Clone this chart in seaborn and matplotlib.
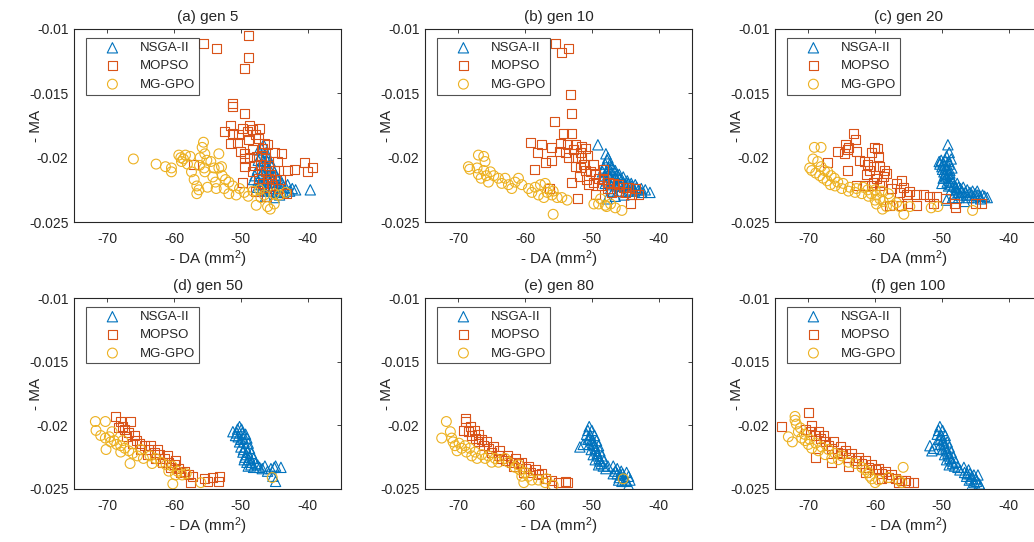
import numpy as np
import matplotlib
matplotlib.use("Agg")
import matplotlib.pyplot as plt
import seaborn as sns


# ---- data (x = - DA in mm^2, y = - MA) ----
titles = ["(a) gen 5", "(b) gen 10", "(c) gen 20", "(d) gen 50", "(e) gen 80", "(f) gen 100"]
algorithms = ["NSGA-II", "MOPSO", "MG-GPO"]
x_ticks = [-70, -60, -50, -40]
y_ticks = [-0.025, -0.02, -0.015, -0.01]
y_tick_labels = ["-0.025", "-0.02", "-0.015", "-0.01"]

gen5_nsga = [
    (-46.6, -0.0190), (-47.3, -0.0194), (-46.2, -0.0196), (-47.0, -0.0199), (-46.0, -0.0200),
    (-47.4, -0.0202), (-46.5, -0.0203), (-45.6, -0.0203), (-47.1, -0.0206), (-46.2, -0.0207),
    (-45.4, -0.0207), (-47.5, -0.0209), (-46.7, -0.0210), (-45.8, -0.0211), (-45.0, -0.0211),
    (-47.9, -0.0214), (-47.0, -0.0214), (-46.1, -0.0215), (-45.3, -0.0215), (-44.5, -0.0216),
    (-48.1, -0.0217), (-47.4, -0.0218), (-46.5, -0.0218), (-45.6, -0.0219), (-44.8, -0.0219),
    (-43.9, -0.0220), (-47.0, -0.0221), (-46.0, -0.0222), (-45.1, -0.0222), (-44.2, -0.0223),
    (-43.3, -0.0223), (-42.3, -0.0224), (-41.8, -0.0225), (-39.6, -0.0225), (-46.4, -0.0226),
    (-45.5, -0.0226), (-44.6, -0.0227), (-43.6, -0.0227), (-46.3, -0.0230), (-45.0, -0.0231),
    (-44.2, -0.0229), (-46.8, -0.0212), (-45.9, -0.0217), (-44.9, -0.0224), (-46.9, -0.0225),
    (-46.9, -0.0193), (-46.4, -0.0199), (-45.8, -0.0208), (-44.8, -0.0214), (-44.0, -0.0218),
    (-43.0, -0.0221), (-42.7, -0.0226), (-47.5, -0.0223), (-45.8, -0.0224), (-44.1, -0.0226),
]
gen5_mopso = [
    (-55.6, -0.0111), (-53.7, -0.0115), (-48.8, -0.0105), (-48.9, -0.0122), (-49.4, -0.0131),
    (-51.3, -0.0158), (-51.3, -0.0160), (-49.4, -0.0166), (-51.5, -0.0175), (-49.8, -0.0177),
    (-48.7, -0.0175), (-48.3, -0.0178), (-47.2, -0.0177), (-52.4, -0.0180), (-51.3, -0.0181),
    (-50.3, -0.0182), (-49.0, -0.0180), (-47.8, -0.0182), (-51.6, -0.0189), (-50.5, -0.0188),
    (-48.8, -0.0186), (-47.3, -0.0185), (-46.5, -0.0189), (-50.0, -0.0195), (-49.4, -0.0197),
    (-48.3, -0.0194), (-46.8, -0.0193), (-46.0, -0.0190), (-49.5, -0.0201), (-48.7, -0.0200),
    (-47.7, -0.0199), (-46.9, -0.0198), (-46.3, -0.0201), (-45.0, -0.0196), (-43.9, -0.0197),
    (-49.4, -0.0207), (-47.9, -0.0206), (-47.1, -0.0205), (-45.9, -0.0206), (-44.5, -0.0203),
    (-57.1, -0.0205), (-48.3, -0.0211), (-46.3, -0.0211), (-44.9, -0.0210), (-43.0, -0.0210),
    (-42.0, -0.0209), (-40.5, -0.0204), (-40.0, -0.0211), (-39.3, -0.0208), (-47.3, -0.0216),
    (-45.8, -0.0216), (-44.8, -0.0217), (-49.8, -0.0219), (-46.1, -0.0223), (-44.1, -0.0217),
    (-43.1, -0.0228), (-47.8, -0.0226), (-46.2, -0.0230), (-45.3, -0.0222), (-46.8, -0.0220),
    (-45.6, -0.0213), (-44.4, -0.0224),
]
gen5_mggpo = [
    (-66.1, -0.0201), (-62.7, -0.0205), (-61.3, -0.0207), (-60.4, -0.0208), (-60.4, -0.0211),
    (-59.3, -0.0198), (-59.0, -0.0200), (-58.6, -0.0201), (-58.3, -0.0198), (-57.6, -0.0199),
    (-58.9, -0.0203), (-58.0, -0.0205), (-55.6, -0.0188), (-55.8, -0.0192), (-55.4, -0.0197),
    (-55.1, -0.0202), (-54.5, -0.0203), (-53.3, -0.0197), (-56.1, -0.0200), (-56.2, -0.0206),
    (-55.5, -0.0208), (-55.4, -0.0211), (-57.4, -0.0211), (-57.0, -0.0217), (-56.6, -0.0222),
    (-56.6, -0.0228), (-56.3, -0.0225), (-54.0, -0.0208), (-53.3, -0.0208), (-52.9, -0.0207),
    (-52.8, -0.0214), (-52.3, -0.0217), (-51.8, -0.0219), (-54.2, -0.0215), (-53.8, -0.0219),
    (-53.7, -0.0224), (-52.5, -0.0224), (-51.2, -0.0222), (-50.2, -0.0224), (-55.0, -0.0223),
    (-50.7, -0.0229), (-49.5, -0.0227), (-48.2, -0.0226), (-47.2, -0.0225), (-51.8, -0.0228),
    (-47.7, -0.0237), (-46.0, -0.0238), (-45.6, -0.0240), (-45.0, -0.0236), (-46.5, -0.0229),
    (-45.0, -0.0228), (-43.3, -0.0227), (-44.2, -0.0229), (-48.9, -0.0230), (-47.0, -0.0231),
]

gen10_nsga = [
    (-49.1, -0.0190), (-47.9, -0.0197), (-47.7, -0.0202), (-48.0, -0.0205), (-47.3, -0.0205),
    (-48.2, -0.0208), (-47.5, -0.0208), (-46.8, -0.0209), (-48.4, -0.0211), (-47.7, -0.0211),
    (-46.9, -0.0212), (-46.2, -0.0213), (-48.1, -0.0214), (-47.3, -0.0215), (-46.5, -0.0215),
    (-45.8, -0.0216), (-47.8, -0.0218), (-46.9, -0.0218), (-46.1, -0.0219), (-45.3, -0.0219),
    (-44.6, -0.0220), (-47.2, -0.0221), (-46.3, -0.0222), (-45.6, -0.0222), (-44.8, -0.0223),
    (-44.0, -0.0222), (-43.3, -0.0223), (-42.6, -0.0224), (-42.0, -0.0225), (-41.3, -0.0227),
    (-42.5, -0.0227), (-43.6, -0.0226), (-44.6, -0.0226), (-45.7, -0.0226), (-46.8, -0.0226),
    (-47.7, -0.0232), (-46.5, -0.0230), (-45.2, -0.0229), (-47.6, -0.0200), (-47.0, -0.0207),
    (-46.5, -0.0210), (-45.9, -0.0213), (-45.3, -0.0215), (-44.7, -0.0218), (-44.1, -0.0220),
    (-43.5, -0.0221), (-47.6, -0.0213), (-46.7, -0.0217), (-45.9, -0.0220), (-45.0, -0.0221),
    (-43.0, -0.0225), (-44.0, -0.0225), (-47.2, -0.0224), (-48.0, -0.0220),
]
gen10_mopso = [
    (-55.5, -0.0111), (-54.5, -0.0118), (-53.5, -0.0115), (-53.2, -0.0151), (-53.1, -0.0166),
    (-55.6, -0.0172), (-54.3, -0.0181), (-53.0, -0.0181), (-59.2, -0.0188), (-57.6, -0.0190),
    (-58.1, -0.0196), (-56.0, -0.0192), (-57.0, -0.0204), (-56.0, -0.0202), (-58.6, -0.0209),
    (-54.7, -0.0189), (-53.7, -0.0190), (-52.5, -0.0190), (-51.5, -0.0191), (-54.9, -0.0195),
    (-54.0, -0.0196), (-52.7, -0.0194), (-51.7, -0.0196), (-51.0, -0.0193), (-53.5, -0.0200),
    (-52.5, -0.0200), (-51.5, -0.0200), (-50.7, -0.0198), (-53.0, -0.0219), (-52.2, -0.0232),
    (-56.3, -0.0224), (-52.5, -0.0207), (-51.7, -0.0208), (-51.0, -0.0210), (-50.2, -0.0211),
    (-49.5, -0.0213), (-49.0, -0.0216), (-48.2, -0.0217), (-47.5, -0.0219), (-46.7, -0.0220),
    (-46.0, -0.0221), (-45.2, -0.0223), (-44.5, -0.0223), (-43.5, -0.0224), (-44.0, -0.0229),
    (-43.0, -0.0229), (-45.0, -0.0227), (-46.0, -0.0226), (-44.2, -0.0236), (-49.5, -0.0229),
    (-50.5, -0.0221), (-51.8, -0.0215), (-50.8, -0.0217), (-49.8, -0.0219), (-48.5, -0.0222),
    (-47.6, -0.0224), (-47.0, -0.0227), (-48.3, -0.0209), (-49.7, -0.0205), (-51.2, -0.0205),
]
gen10_mggpo = [
    (-68.5, -0.0207), (-68.3, -0.0209), (-67.0, -0.0198), (-66.2, -0.0199), (-67.2, -0.0208),
    (-67.0, -0.0213), (-66.0, -0.0203), (-66.2, -0.0210), (-65.8, -0.0214), (-65.2, -0.0211),
    (-64.7, -0.0214), (-65.5, -0.0219), (-66.6, -0.0216), (-64.0, -0.0216), (-63.0, -0.0216),
    (-62.5, -0.0221), (-61.5, -0.0219), (-61.0, -0.0216), (-60.5, -0.0221), (-62.0, -0.0224),
    (-63.5, -0.0220), (-59.5, -0.0224), (-58.5, -0.0223), (-57.7, -0.0221), (-57.0, -0.0220),
    (-56.5, -0.0224), (-56.0, -0.0229), (-55.2, -0.0231), (-54.5, -0.0231), (-53.7, -0.0233),
    (-57.2, -0.0231), (-58.0, -0.0229), (-56.7, -0.0227), (-55.8, -0.0226), (-55.8, -0.0244),
    (-59.0, -0.0227), (-49.7, -0.0236), (-49.0, -0.0236), (-48.0, -0.0237), (-47.2, -0.0236),
    (-46.5, -0.0239), (-45.5, -0.0241), (-47.8, -0.0238), (-48.7, -0.0232),
]

gen20_nsga = [
    (-49.1, -0.0190), (-48.9, -0.0196), (-49.3, -0.0199), (-50.1, -0.0202), (-49.5, -0.0202),
    (-48.6, -0.0201), (-50.3, -0.0205), (-49.6, -0.0206), (-48.9, -0.0205), (-49.9, -0.0209),
    (-49.2, -0.0209), (-48.5, -0.0208), (-49.5, -0.0212), (-48.8, -0.0212), (-49.4, -0.0215),
    (-48.6, -0.0216), (-49.2, -0.0219), (-48.4, -0.0219), (-47.7, -0.0220), (-49.0, -0.0222),
    (-48.2, -0.0222), (-47.5, -0.0223), (-46.8, -0.0223), (-48.6, -0.0225), (-47.8, -0.0225),
    (-47.0, -0.0226), (-46.2, -0.0225), (-45.4, -0.0226), (-44.7, -0.0226), (-48.1, -0.0228),
    (-47.2, -0.0229), (-46.3, -0.0229), (-45.5, -0.0229), (-44.6, -0.0229), (-43.9, -0.0229),
    (-43.2, -0.0231), (-44.2, -0.0232), (-45.2, -0.0231), (-46.6, -0.0234), (-49.3, -0.0233),
    (-50.0, -0.0220), (-49.8, -0.0216), (-50.4, -0.0203), (-49.8, -0.0204), (-49.0, -0.0203),
    (-50.0, -0.0207), (-49.4, -0.0208), (-48.8, -0.0210), (-49.7, -0.0211), (-49.1, -0.0213),
    (-49.6, -0.0214), (-48.9, -0.0218), (-48.7, -0.0221), (-47.9, -0.0223), (-47.2, -0.0224),
    (-46.5, -0.0227), (-45.8, -0.0227), (-45.0, -0.0228), (-44.3, -0.0230), (-43.6, -0.0230),
    (-47.6, -0.0227), (-46.0, -0.0231), (-48.4, -0.0231), (-47.5, -0.0231),
]
gen20_mopso = [
    (-63.2, -0.0181), (-62.9, -0.0186), (-64.4, -0.0190), (-64.1, -0.0194), (-65.6, -0.0195),
    (-64.6, -0.0197), (-62.8, -0.0195), (-64.0, -0.0192), (-67.2, -0.0204), (-64.1, -0.0210),
    (-62.4, -0.0202), (-61.6, -0.0203), (-60.1, -0.0192), (-59.6, -0.0193), (-59.5, -0.0199),
    (-60.5, -0.0196), (-61.2, -0.0205), (-60.3, -0.0207), (-59.3, -0.0207), (-58.6, -0.0210),
    (-60.8, -0.0210), (-61.3, -0.0213), (-59.8, -0.0216), (-58.8, -0.0215), (-58.3, -0.0212),
    (-59.3, -0.0222), (-60.2, -0.0219), (-62.8, -0.0222), (-61.6, -0.0222), (-60.6, -0.0222),
    (-59.0, -0.0219), (-56.8, -0.0220), (-55.8, -0.0223), (-54.8, -0.0226), (-53.8, -0.0229),
    (-52.8, -0.0229), (-51.8, -0.0230), (-50.8, -0.0230), (-56.3, -0.0227), (-55.3, -0.0229),
    (-57.5, -0.0224), (-56.0, -0.0218), (-57.8, -0.0237), (-56.1, -0.0237), (-55.1, -0.0236),
    (-53.8, -0.0237), (-51.3, -0.0236), (-49.4, -0.0232), (-48.1, -0.0236), (-48.0, -0.0239),
    (-44.9, -0.0236), (-44.1, -0.0236),
]
gen20_mggpo = [
    (-69.1, -0.0192), (-68.1, -0.0192), (-69.8, -0.0208), (-69.3, -0.0201), (-68.6, -0.0203),
    (-68.1, -0.0207), (-67.6, -0.0210), (-67.1, -0.0211), (-66.6, -0.0214), (-66.1, -0.0216),
    (-65.6, -0.0219), (-64.8, -0.0220), (-63.8, -0.0223), (-62.8, -0.0224), (-61.8, -0.0223),
    (-61.1, -0.0225), (-60.6, -0.0228), (-59.8, -0.0229), (-59.3, -0.0232), (-58.8, -0.0234),
    (-58.3, -0.0238), (-58.9, -0.0240), (-57.3, -0.0237), (-56.3, -0.0238), (-55.7, -0.0244),
    (-54.8, -0.0238), (-51.6, -0.0239), (-50.6, -0.0238), (-45.4, -0.0241), (-69.5, -0.0210),
    (-68.9, -0.0212), (-68.3, -0.0214), (-67.8, -0.0216), (-67.2, -0.0218), (-66.7, -0.0221),
    (-66.0, -0.0222), (-65.0, -0.0224), (-64.0, -0.0226), (-63.0, -0.0227), (-62.0, -0.0228),
    (-61.0, -0.0230), (-60.0, -0.0233), (-59.8, -0.0236), (-57.8, -0.0232), (-56.8, -0.0235),
    (-58.0, -0.0228), (-59.0, -0.0226), (-60.0, -0.0225),
]

gen50_nsga = [
    (-50.2, -0.0201), (-50.5, -0.0203), (-49.9, -0.0203), (-51.2, -0.0205), (-50.6, -0.0206),
    (-49.8, -0.0206), (-49.3, -0.0207), (-50.4, -0.0209), (-49.7, -0.0210), (-49.1, -0.0210),
    (-50.2, -0.0213), (-49.5, -0.0213), (-48.9, -0.0214), (-50.0, -0.0217), (-49.3, -0.0217),
    (-48.7, -0.0218), (-49.7, -0.0221), (-49.0, -0.0221), (-48.4, -0.0222), (-49.4, -0.0225),
    (-48.7, -0.0225), (-48.1, -0.0226), (-49.1, -0.0229), (-48.4, -0.0229), (-47.8, -0.0230),
    (-48.9, -0.0232), (-48.1, -0.0233), (-47.2, -0.0233), (-46.4, -0.0232), (-45.5, -0.0234),
    (-44.8, -0.0232), (-44.0, -0.0233), (-45.2, -0.0240), (-44.8, -0.0244), (-46.0, -0.0236),
    (-50.0, -0.0211), (-49.6, -0.0219), (-49.2, -0.0223), (-48.8, -0.0227), (-48.5, -0.0231),
    (-47.5, -0.0231), (-46.8, -0.0234), (-45.0, -0.0233), (-50.8, -0.0208), (-49.5, -0.0227),
]
gen50_mopso = [
    (-68.8, -0.0193), (-68.0, -0.0197), (-67.8, -0.0201), (-67.5, -0.0203), (-66.6, -0.0197),
    (-66.8, -0.0206), (-66.0, -0.0208), (-65.7, -0.0212), (-65.2, -0.0214), (-66.2, -0.0214),
    (-67.2, -0.0209), (-68.3, -0.0202), (-64.5, -0.0216), (-63.8, -0.0219), (-63.0, -0.0221),
    (-62.2, -0.0223), (-61.5, -0.0226), (-60.8, -0.0229), (-60.0, -0.0231), (-59.3, -0.0234),
    (-58.5, -0.0236), (-57.8, -0.0239), (-57.3, -0.0240), (-65.0, -0.0219), (-64.0, -0.0223),
    (-62.8, -0.0226), (-61.8, -0.0229), (-60.5, -0.0233), (-59.0, -0.0237), (-63.5, -0.0216),
    (-62.5, -0.0219), (-61.0, -0.0224), (-59.8, -0.0228), (-57.5, -0.0245), (-55.5, -0.0242),
    (-54.3, -0.0241), (-53.3, -0.0244), (-53.2, -0.0240), (-55.0, -0.0244),
]
gen50_mggpo = [
    (-71.8, -0.0197), (-71.7, -0.0204), (-70.3, -0.0197), (-71.0, -0.0208), (-70.3, -0.0210),
    (-69.7, -0.0209), (-70.2, -0.0219), (-69.5, -0.0213), (-69.0, -0.0212), (-68.6, -0.0215),
    (-68.0, -0.0216), (-68.0, -0.0221), (-67.4, -0.0218), (-66.8, -0.0220), (-66.6, -0.0230),
    (-66.2, -0.0222), (-65.5, -0.0224), (-64.6, -0.0226), (-63.6, -0.0224), (-62.8, -0.0226),
    (-62.0, -0.0229), (-61.2, -0.0231), (-60.3, -0.0232), (-60.2, -0.0246), (-59.5, -0.0236),
    (-58.8, -0.0239), (-58.2, -0.0238), (-56.0, -0.0245), (-45.3, -0.0241), (-69.3, -0.0205),
    (-67.7, -0.0212), (-65.0, -0.0219), (-63.3, -0.0230), (-60.8, -0.0236), (-59.8, -0.0239),
]

gen80_nsga = [
    (-50.4, -0.0201), (-50.6, -0.0204), (-50.0, -0.0204), (-50.8, -0.0207), (-50.2, -0.0208),
    (-49.6, -0.0208), (-51.8, -0.0217), (-50.6, -0.0211), (-49.9, -0.0212), (-49.3, -0.0212),
    (-50.4, -0.0215), (-49.6, -0.0216), (-49.0, -0.0216), (-50.1, -0.0219), (-49.4, -0.0220),
    (-48.8, -0.0220), (-49.8, -0.0223), (-49.1, -0.0224), (-48.5, -0.0224), (-49.5, -0.0227),
    (-48.8, -0.0228), (-48.2, -0.0228), (-49.0, -0.0231), (-48.3, -0.0232), (-47.6, -0.0232),
    (-46.8, -0.0232), (-46.2, -0.0234), (-45.6, -0.0236), (-46.2, -0.0238), (-45.4, -0.0238),
    (-44.8, -0.0237), (-45.9, -0.0241), (-45.2, -0.0241), (-44.5, -0.0240), (-45.5, -0.0244),
    (-44.8, -0.0244), (-44.5, -0.0247), (-46.8, -0.0238), (-50.3, -0.0210), (-49.8, -0.0214),
    (-49.5, -0.0218), (-49.2, -0.0222), (-48.9, -0.0226), (-48.6, -0.0230), (-47.9, -0.0234),
    (-46.5, -0.0236), (-45.7, -0.0239), (-45.0, -0.0243), (-44.3, -0.0243), (-51.3, -0.0215),
    (-46.0, -0.0243),
]
gen80_mopso = [
    (-69.0, -0.0195), (-69.0, -0.0197), (-69.2, -0.0204), (-68.5, -0.0205), (-68.0, -0.0208),
    (-67.5, -0.0210), (-67.0, -0.0213), (-66.2, -0.0216), (-65.5, -0.0218), (-65.0, -0.0221),
    (-64.0, -0.0224), (-63.0, -0.0228), (-62.0, -0.0229), (-61.0, -0.0230), (-60.0, -0.0234),
    (-59.2, -0.0237), (-58.0, -0.0239), (-57.0, -0.0242), (-56.0, -0.0243), (-55.0, -0.0245),
    (-54.0, -0.0244), (-56.0, -0.0247), (-53.6, -0.0245), (-68.2, -0.0201), (-67.6, -0.0204),
    (-67.0, -0.0207), (-66.5, -0.0211), (-65.8, -0.0213), (-64.8, -0.0217), (-63.8, -0.0220),
    (-62.6, -0.0224), (-61.5, -0.0226), (-60.5, -0.0229), (-59.5, -0.0232), (-58.5, -0.0235),
    (-57.5, -0.0238), (-63.5, -0.0226), (-61.8, -0.0232), (-60.2, -0.0237),
]
gen80_mggpo = [
    (-71.8, -0.0197), (-72.5, -0.0210), (-71.2, -0.0205), (-71.0, -0.0210), (-70.5, -0.0216),
    (-70.2, -0.0220), (-69.5, -0.0218), (-68.8, -0.0221), (-68.0, -0.0224), (-67.2, -0.0226),
    (-66.0, -0.0226), (-65.0, -0.0229), (-64.0, -0.0229), (-63.0, -0.0226), (-61.0, -0.0231),
    (-60.8, -0.0235), (-60.2, -0.0245), (-60.0, -0.0237), (-59.5, -0.0240), (-57.0, -0.0245),
    (-55.8, -0.0247), (-45.3, -0.0242), (-70.8, -0.0213), (-69.9, -0.0214), (-69.0, -0.0216),
    (-68.3, -0.0218), (-67.5, -0.0221), (-66.5, -0.0223), (-65.5, -0.0224), (-64.5, -0.0226),
    (-62.5, -0.0229), (-61.5, -0.0233), (-60.5, -0.0240), (-59.0, -0.0243), (-58.0, -0.0243),
    (-56.8, -0.0242),
]

gen100_nsga = [
    (-50.3, -0.0201), (-50.5, -0.0204), (-49.9, -0.0204), (-50.7, -0.0207), (-50.1, -0.0208),
    (-49.5, -0.0208), (-51.8, -0.0216), (-51.2, -0.0218), (-50.5, -0.0211), (-49.8, -0.0212),
    (-49.2, -0.0213), (-50.2, -0.0215), (-49.6, -0.0216), (-48.9, -0.0217), (-49.9, -0.0219),
    (-49.2, -0.0220), (-48.6, -0.0221), (-49.6, -0.0223), (-48.9, -0.0224), (-48.3, -0.0225),
    (-49.3, -0.0227), (-48.5, -0.0228), (-47.9, -0.0229), (-48.9, -0.0231), (-48.1, -0.0232),
    (-47.6, -0.0233), (-46.7, -0.0233), (-46.0, -0.0235), (-46.6, -0.0237), (-45.8, -0.0238),
    (-45.2, -0.0239), (-46.3, -0.0240), (-45.6, -0.0242), (-44.9, -0.0242), (-45.1, -0.0245),
    (-44.4, -0.0246), (-44.2, -0.0248), (-45.5, -0.0247), (-50.2, -0.0210), (-49.7, -0.0214),
    (-49.4, -0.0218), (-49.1, -0.0222), (-48.8, -0.0226), (-48.4, -0.0230), (-47.3, -0.0235),
    (-46.2, -0.0238), (-45.5, -0.0240), (-44.8, -0.0244), (-44.6, -0.0239), (-51.5, -0.0220),
    (-45.9, -0.0243),
]
gen100_mopso = [
    (-74.0, -0.0201), (-70.0, -0.0190), (-70.5, -0.0203), (-69.7, -0.0205), (-69.0, -0.0208),
    (-68.2, -0.0210), (-67.5, -0.0213), (-67.0, -0.0216), (-66.5, -0.0218), (-65.7, -0.0221),
    (-65.0, -0.0222), (-64.0, -0.0225), (-63.0, -0.0228), (-62.0, -0.0230), (-61.0, -0.0233),
    (-60.0, -0.0235), (-59.0, -0.0238), (-58.0, -0.0241), (-57.0, -0.0242), (-56.0, -0.0243),
    (-55.0, -0.0245), (-54.2, -0.0245), (-69.0, -0.0225), (-66.5, -0.0229), (-64.0, -0.0232),
    (-61.5, -0.0237), (-59.0, -0.0242), (-68.5, -0.0205), (-67.8, -0.0208), (-66.2, -0.0213),
    (-65.2, -0.0217), (-64.5, -0.0220), (-63.5, -0.0222), (-62.5, -0.0225), (-61.5, -0.0228),
    (-60.5, -0.0231), (-59.5, -0.0234), (-58.5, -0.0236), (-57.5, -0.0239), (-56.5, -0.0245),
    (-55.5, -0.0243), (-69.5, -0.0200),
]
gen100_mggpo = [
    (-72.0, -0.0193), (-72.0, -0.0196), (-71.8, -0.0199), (-73.0, -0.0209), (-71.5, -0.0205),
    (-71.0, -0.0210), (-70.5, -0.0212), (-70.0, -0.0215), (-69.5, -0.0218), (-68.5, -0.0220),
    (-67.5, -0.0223), (-66.5, -0.0226), (-65.5, -0.0227), (-64.0, -0.0229), (-62.0, -0.0233),
    (-61.0, -0.0237), (-60.5, -0.0242), (-60.0, -0.0245), (-58.0, -0.0241), (-56.0, -0.0245),
    (-55.8, -0.0233), (-71.2, -0.0202), (-70.6, -0.0207), (-69.8, -0.0211), (-68.9, -0.0214),
    (-68.0, -0.0217), (-67.0, -0.0219), (-66.0, -0.0222), (-65.0, -0.0224), (-63.0, -0.0230),
    (-61.5, -0.0235), (-60.8, -0.0240), (-59.5, -0.0243), (-56.5, -0.0243), (-72.4, -0.0213),
]

panel_series = [
    (gen5_nsga, gen5_mopso, gen5_mggpo),
    (gen10_nsga, gen10_mopso, gen10_mggpo),
    (gen20_nsga, gen20_mopso, gen20_mggpo),
    (gen50_nsga, gen50_mopso, gen50_mggpo),
    (gen80_nsga, gen80_mopso, gen80_mggpo),
    (gen100_nsga, gen100_mopso, gen100_mggpo),
]

# MATLAB default colours
colors = ["#0072BD", "#D95319", "#EDB120"]
markers = ["^", "s", "o"]
sizes = [55, 42, 50]

sns.set_theme(style="white")
plt.rcParams.update({
    "font.family": ["Liberation Sans", "DejaVu Sans"],
    "mathtext.default": "regular",
    "axes.unicode_minus": False,
    "axes.edgecolor": "#262626",
    "axes.linewidth": 0.8,
    "xtick.color": "#262626",
    "ytick.color": "#262626",
})

fig = plt.figure(figsize=(10.34, 5.42), dpi=100)
W, H = 1034, 542
col_left = [74, 425, 775]
row_top = [29, 298]
row_height = [193, 191]
ax_w = 267

for i, (title, series) in enumerate(zip(titles, panel_series)):
    r, c = divmod(i, 3)
    ax = fig.add_axes([col_left[c] / W, 1 - (row_top[r] + row_height[r]) / H,
                       ax_w / W, row_height[r] / H])
    for pts, name, col, mk, sz in zip(series, algorithms, colors, markers, sizes):
        arr = np.array(pts)
        sns.scatterplot(x=arr[:, 0], y=arr[:, 1], ax=ax, marker=mk, s=sz,
                        facecolors="none", edgecolor=col, linewidth=0.8, label=name)
    ax.set_xlim(-75, -35)
    ax.set_ylim(-0.025, -0.01)
    ax.set_xticks(x_ticks)
    ax.set_yticks(y_ticks)
    ax.set_yticklabels(y_tick_labels)
    ax.tick_params(direction="in", top=True, right=True, length=3, width=0.6,
                   labelsize=10)
    ax.tick_params(axis="x", pad=7)
    ax.tick_params(axis="y", pad=4)
    for sp in ax.spines.values():
        sp.set_visible(True)
        sp.set_color("#262626")
    ax.set_title(title, fontsize=11, pad=6)
    ax.set_xlabel("- DA (mm$^2$)", fontsize=11, labelpad=2)
    ax.set_ylabel("- MA", fontsize=11)
    ax.yaxis.set_label_coords(-0.115, 0.5)
    leg = ax.legend(loc="upper left", bbox_to_anchor=(0.045, 0.953), borderaxespad=0,
                    fontsize=9.5, frameon=True, fancybox=False, handlelength=3.4,
                    handletextpad=0.35, borderpad=0.3, labelspacing=0.45)
    leg.get_frame().set_edgecolor("#262626")
    leg.get_frame().set_linewidth(0.8)

fig.savefig("out.png", dpi=100)
